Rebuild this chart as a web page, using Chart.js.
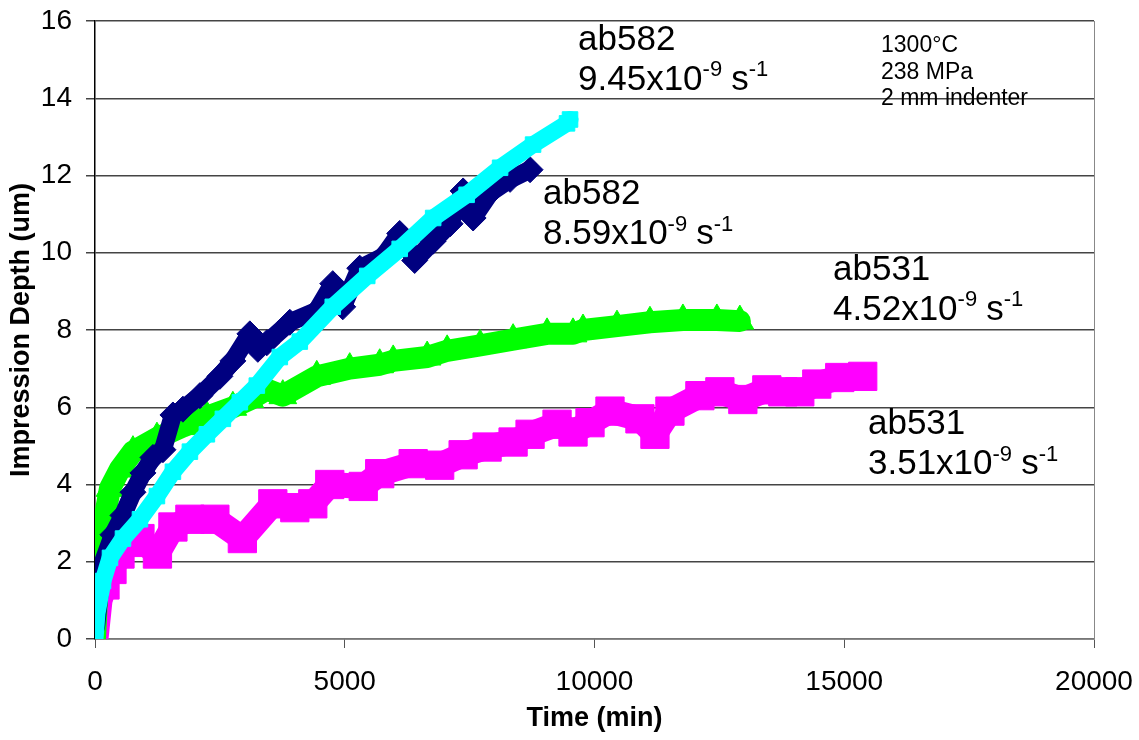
<!DOCTYPE html>
<html>
<head>
<meta charset="utf-8">
<script src="https://cdn.jsdelivr.net/npm/chart.js@4.4.0/dist/chart.umd.min.js"></script>
<style>
  html, body { margin: 0; padding: 0; background: #fff; }
  #wrap { width: 1139px; height: 740px; }
</style>
</head>
<body>
<div id="wrap"><canvas id="chart"></canvas></div>
<script>
// time (min) / depth (um)
const magentaT = [20, 100, 200, 340, 500, 700, 900, 1250, 1560, 1900, 2400, 2950, 3560, 4000, 4360, 4700, 5370, 5700, 6370, 6900, 7370, 7850, 8370, 8710, 9250, 9570, 9910, 10310, 10910, 11210, 11510, 12110, 12510, 12970, 13450, 13770, 14110, 14450, 14910, 15370];
const magentaD = [0, 1.0, 1.4, 1.8, 2.2, 2.5, 2.6, 2.2, 2.9, 3.1, 3.1, 2.6, 3.5, 3.4, 3.5, 4.0, 3.95, 4.28, 4.54, 4.5, 4.77, 4.97, 5.1, 5.3, 5.56, 5.36, 5.6, 5.9, 5.7, 5.3, 5.9, 6.3, 6.4, 6.2, 6.45, 6.4, 6.4, 6.6, 6.77, 6.8];

const greenT = [0, 40, 100, 200, 300, 500, 760, 1240, 1760, 2240, 2760, 3100, 3440, 3760, 4440, 5100, 5700, 5970, 6650, 7050, 7710, 8370, 9050, 9570, 9770, 10450, 11110, 11770, 12450, 12910];
const greenD = [0, 1.08, 2.36, 3.2, 3.9, 4.4, 4.85, 5.2, 5.5, 5.75, 6.0, 6.2, 6.46, 6.3, 6.8, 7.0, 7.1, 7.2, 7.3, 7.46, 7.6, 7.75, 7.9, 7.9, 8.0, 8.1, 8.2, 8.26, 8.26, 8.23];

const navyT = [20, 160, 360, 560, 760, 960, 1160, 1360, 1560, 1760, 2100, 2500, 2760, 3100, 3260, 3440, 3900, 4440, 4760, 4960, 5300, 5770, 6100, 6400, 6770, 7110, 7370, 7570, 7910, 8310, 8710];
const navyD = [0.3, 2.0, 2.7, 3.2, 3.8, 4.3, 4.7, 4.9, 5.8, 5.95, 6.3, 6.8, 7.2, 7.9, 7.5, 7.67, 8.2, 8.5, 9.2, 8.6, 9.6, 9.9, 10.5, 9.8, 10.3, 10.75, 11.6, 10.9, 11.55, 11.9, 12.15];

const cyanT = [0, 40, 160, 300, 560, 900, 1240, 1560, 1900, 2240, 2560, 2900, 3240, 3700, 4100, 4760, 5450, 6100, 6770, 7440, 8110, 8770, 9450, 9510];
const cyanD = [0, 0.67, 1.5, 2.1, 2.6, 3.1, 3.7, 4.33, 4.85, 5.3, 5.7, 6.13, 6.56, 7.3, 7.7, 8.6, 9.4, 10.1, 10.9, 11.5, 12.2, 12.8, 13.35, 13.45];

const xTicks = [0, 5000, 10000, 15000, 20000];
const yTicks = [0, 2, 4, 6, 8, 10, 12, 14, 16];

// annotations: [t, depth, name, mantissa]
const notes = [
  [9670, 15.5, 'ab582', '9.45'],
  [8970, 11.5, 'ab582', '8.59'],
  [14775, 9.55, 'ab531', '4.52'],
  [15475, 5.55, 'ab531', '3.51']
];
const conditions = ['1300°C', '238 MPa', '2 mm indenter'];

const FONT = '"Liberation Sans", Arial, sans-serif';

function pts(t, d) { return t.map((v, i) => ({ x: v, y: d[i] })); }

function series(label, t, d, color, width, style, radius, order) {
  return {
    label: label,
    data: pts(t, d),
    showLine: true,
    borderColor: color,
    backgroundColor: color,
    borderWidth: width,
    borderJoinStyle: 'round',
    borderCapStyle: 'round',
    pointStyle: style,
    pointRadius: c => c.dataIndex < 2 ? 3 : radius,
    pointBorderWidth: 1,
    order: order
  };
}

const notesPlugin = {
  id: 'notes',
  afterDatasetsDraw(chart) {
    const ctx = chart.ctx;
    const xs = chart.scales.x, ys = chart.scales.y;
    const area = chart.chartArea;
    ctx.save();
    // right border of plot
    ctx.strokeStyle = '#888';
    ctx.lineWidth = 1;
    ctx.beginPath();
    ctx.moveTo(area.right + 0.5, area.top);
    ctx.lineTo(area.right + 0.5, area.bottom);
    ctx.stroke();

    ctx.fillStyle = '#000';
    ctx.textBaseline = 'middle';
    ctx.textAlign = 'left';
    const big = 35, small = 22;
    notes.forEach(n => {
      let x = xs.getPixelForValue(n[0]);
      let y = ys.getPixelForValue(n[1]);
      ctx.font = big + 'px ' + FONT;
      ctx.fillText(n[2], x, y);
      let y2 = y + 40;
      let s = n[3] + 'x10';
      ctx.fillText(s, x, y2);
      x += ctx.measureText(s).width;
      ctx.font = small + 'px ' + FONT;
      ctx.fillText('-9', x, y2 - 10);
      x += ctx.measureText('-9 ').width + 3;
      ctx.font = big + 'px ' + FONT;
      ctx.fillText('s', x, y2);
      x += ctx.measureText('s').width;
      ctx.font = small + 'px ' + FONT;
      ctx.fillText('-1', x, y2 - 10);
    });

    ctx.font = '23px ' + FONT;
    const cx = xs.getPixelForValue(15736);
    conditions.forEach((c, i) => {
      ctx.fillText(c, cx, ys.getPixelForValue(15.36) + i * 26.5);
    });
    ctx.restore();
  }
};

new Chart(document.getElementById('chart'), {
  type: 'scatter',
  data: {
    datasets: [
      series('ab582 9.45', cyanT, cyanD, '#00ffff', 17, 'rect', 11, 0),
      series('ab582 8.59', navyT, navyD, '#000080', 18, 'rectRot', 13, 1),
      series('ab531 4.52', greenT, greenD, '#00ff00', 22, 'triangle', 16, 2),
      series('ab531 3.51', magentaT, magentaD, '#ff00ff', 25, 'rect', 20, 3)
    ]
  },
  options: {
    responsive: true,
    maintainAspectRatio: false,
    animation: false,
    layout: { padding: { top: 0, right: 0, left: 0, bottom: 8 } },
    plugins: {
      legend: { display: false },
      tooltip: { enabled: false }
    },
    scales: {
      x: {
        type: 'linear',
        min: 0,
        max: 20000,
        afterBuildTicks: axis => { axis.ticks = xTicks.map(v => ({ value: v })); },
        afterFit: s => { s.height = 93; s.paddingRight = 45; s.paddingLeft = 0; },
        border: { display: true, color: '#777', width: 1.5 },
        grid: { drawOnChartArea: false, drawTicks: true, tickLength: 9, color: '#555' },
        ticks: {
          color: '#000',
          padding: 20,
          maxRotation: 0,
          callback: v => String(v),
          font: { family: FONT, size: 28, lineHeight: 1.0 }
        },
        title: {
          display: true,
          text: 'Time (min)',
          color: '#000',
          padding: { top: 0, bottom: 0 },
          font: { family: FONT, size: 27, weight: 'bold', lineHeight: 1.0 }
        }
      },
      y: {
        type: 'linear',
        min: 0,
        max: 16,
        afterBuildTicks: axis => { axis.ticks = yTicks.map(v => ({ value: v })); },
        afterFit: s => { s.width = 95; s.paddingTop = 15; s.paddingBottom = 0; },
        border: { display: true, color: '#000', width: 1.5 },
        grid: { drawOnChartArea: true, drawTicks: true, tickLength: 9, color: '#444', lineWidth: 1.5 },
        ticks: {
          color: '#000',
          padding: 14,
          callback: v => String(v),
          font: { family: FONT, size: 28, lineHeight: 1.0 }
        },
        title: {
          display: true,
          text: 'Impression Depth (um)',
          color: '#000',
          padding: { top: 8, bottom: 0 },
          font: { family: FONT, size: 27, weight: 'bold', lineHeight: 1.0 }
        }
      }
    }
  },
  plugins: [notesPlugin]
});
</script>
</body>
</html>
